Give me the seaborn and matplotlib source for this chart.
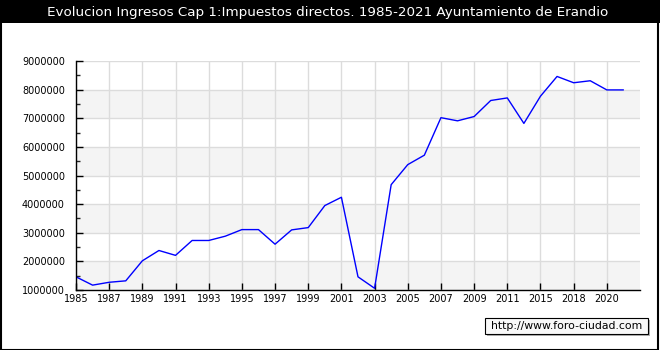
import matplotlib
matplotlib.use("Agg")
import matplotlib.pyplot as plt
import seaborn as sns
import numpy as np
import pandas as pd
from matplotlib.patches import Rectangle
from matplotlib.ticker import MultipleLocator, FuncFormatter

years = ["1985", "1986", "1987", "1988", "1989", "1990", "1991", "1992", "1993",
         "1994", "1995", "1996", "1997", "1998", "1999", "2000", "2001", "2002",
         "2003", "2004", "2005", "2006", "2007", "2008", "2009", "2010", "2011",
         "2014", "2015", "2017", "2018", "2019", "2020", "2021"]
values = [1460000, 1170000, 1270000, 1320000, 2020000, 2380000, 2210000, 2730000,
          2730000, 2880000, 3110000, 3110000, 2600000, 3100000, 3180000, 3950000,
          4240000, 1460000, 1060000, 4680000, 5380000, 5710000, 7020000, 6910000,
          7060000, 7620000, 7710000, 6820000, 7770000, 8460000, 8240000, 8310000,
          7990000, 7990000]
title = "Evolucion Ingresos Cap 1:Impuestos directos. 1985-2021 Ayuntamiento de Erandio"
watermark = "http://www.foro-ciudad.com"

df = pd.DataFrame({"pos": np.arange(len(years)), "year": years, "value": values})

sns.set_style("white")
plt.rcParams["font.family"] = ["DejaVu Sans"]

fig = plt.figure(figsize=(6.6, 3.5), dpi=100)
ax = fig.add_axes([76 / 660, 1 - 290 / 350, (640 - 76) / 660, (290 - 61) / 350])

# alternating bands
for lo in range(1, 9):
    if lo % 2 == 1:
        ax.axhspan(lo * 1e6, (lo + 1) * 1e6, color="#f4f4f4", zorder=0, lw=0)

sns.lineplot(data=df, x="pos", y="value", ax=ax, color="#0000ff", lw=1.0, zorder=3)

ax.set_xlim(0, len(years))
ax.set_ylim(1e6, 9e6)
ax.set_xlabel("")
ax.set_ylabel("")

xt = list(range(0, len(years) - 1, 2))
ax.set_xticks(xt)
ax.set_xticklabels([years[i] for i in xt])
ax.yaxis.set_major_locator(MultipleLocator(1e6))
ax.yaxis.set_minor_locator(MultipleLocator(5e5))
ax.yaxis.set_major_formatter(FuncFormatter(lambda v, p: f"{int(v)}"))

ax.grid(True, which="major", color="#dcdcdc", lw=1.0, zorder=1)
ax.set_axisbelow(True)
for s in ["top", "right"]:
    ax.spines[s].set_visible(False)
for s in ["left", "bottom"]:
    ax.spines[s].set_color("black")
    ax.spines[s].set_linewidth(1.0)
    ax.spines[s].set_zorder(4)

ax.tick_params(axis="both", which="major", direction="in", length=5, width=1,
               labelsize=7, colors="black", pad=3)
ax.tick_params(axis="y", which="minor", direction="in", length=3, width=1, left=True)
ax.tick_params(axis="x", which="major", bottom=True)
ax.tick_params(axis="y", which="major", left=True, pad=8)

# title band
fig.patches.append(Rectangle((0, 1 - 23 / 350), 1, 23 / 350, transform=fig.transFigure,
                             facecolor="black", edgecolor="none", zorder=0))
fig.text(0.5 - 2 / 660, 1 - 12.5 / 350, title, color="white", ha="center", va="center",
         fontsize=9.7)

# figure border
fig.patches.append(Rectangle((0.5 / 660, 0.5 / 350), 657 / 660, 348 / 350,
                             transform=fig.transFigure, facecolor="none",
                             edgecolor="black", lw=1.5, zorder=5))

# watermark box
fig.patches.append(Rectangle((487 / 660, 1 - 336 / 350), 163 / 660, 16 / 350,
                             transform=fig.transFigure, facecolor="#b0b0b0",
                             edgecolor="none", zorder=5))
fig.patches.append(Rectangle((485 / 660, 1 - 334 / 350), 163 / 660, 16 / 350,
                             transform=fig.transFigure, facecolor="#f8f8f8",
                             edgecolor="black", lw=0.8, zorder=6))
fig.text(566.5 / 660, 1 - 326 / 350, watermark, ha="center", va="center",
         fontsize=7.8, color="black", zorder=7)

fig.savefig("out.png", dpi=100)
